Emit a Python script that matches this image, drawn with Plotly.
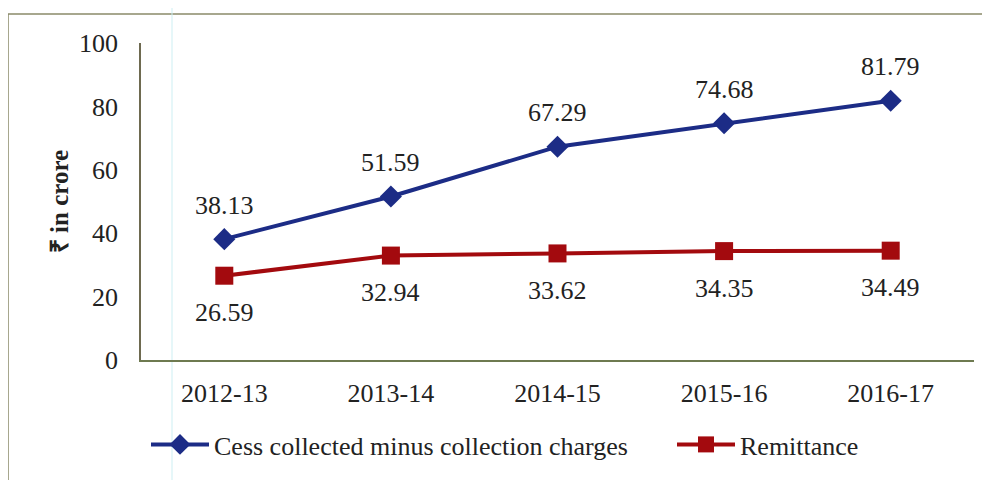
import plotly.graph_objects as go

years = ["2012-13", "2013-14", "2014-15", "2015-16", "2016-17"]
cess = [38.13, 51.59, 67.29, 74.68, 81.79]
remit = [26.59, 32.94, 33.62, 34.35, 34.49]
y_ticks = [0, 20, 40, 60, 80, 100]

FONT = "Liberation Serif, Times New Roman, serif"
FS = 26
BLUE, RED = "#1C2C86", "#A30A0E"
fig = go.Figure()
fig.add_trace(go.Scatter(
    x=years, y=cess, mode="lines+markers",
    name="Cess collected minus collection charges", legend="legend",
    line=dict(color=BLUE, width=4),
    marker=dict(symbol="diamond", size=17, color=BLUE),
))
fig.add_trace(go.Scatter(
    x=years, y=remit, mode="lines+markers",
    name="Remittance", legend="legend2",
    line=dict(color=RED, width=4),
    marker=dict(symbol="square", size=18, color=RED),
))

annotations = []
for xv, yv in zip(years, cess):
    annotations.append(dict(x=xv, y=yv, text=f"{yv:.2f}", showarrow=False,
                            yshift=34, font=dict(family=FONT, size=FS, color="#222")))
for xv, yv in zip(years, remit):
    annotations.append(dict(x=xv, y=yv, text=f"{yv:.2f}", showarrow=False,
                            yshift=-37, font=dict(family=FONT, size=FS, color="#222")))

# page is offset by the default 8px body margin
OX, OY = 8, 8
L, R, T, B = 141 - OX, 16, 43 - OY, 120
FW, FH = 990 - OX, 480 - OY
W, H = FW - L - R, FH - T - B
def px(x): return (x - OX - L) / W
def py(y): return (FH - B - (y - OY)) / H

leg_common = dict(orientation="h", yanchor="top", xanchor="left", itemwidth=58,
                  font=dict(family=FONT, size=FS, color="#222"), bgcolor="rgba(0,0,0,0)")

fig.update_layout(
    width=FW, height=FH,
    margin=dict(l=L, r=R, t=T, b=B, autoexpand=False),
    paper_bgcolor="white", plot_bgcolor="white",
    font=dict(family=FONT, size=FS, color="#222"),
    showlegend=True,
    legend=dict(x=px(146), y=py(421), **leg_common),
    legend2=dict(x=px(672), y=py(421), **leg_common),
    annotations=annotations,
    xaxis=dict(type="category", range=[-0.5, 4.5], showgrid=False, showline=True,
               linecolor="#6E7A50", linewidth=1.5, ticks="", ticklabelstandoff=9,
               tickfont=dict(family=FONT, size=FS, color="#222"), zeroline=False,
               automargin=False),
    yaxis=dict(range=[0, 100], tickvals=y_ticks, showgrid=False, showline=True,
               linecolor="#6E6A50", linewidth=1.5, ticks="", ticklabelstandoff=16,
               tickfont=dict(family=FONT, size=FS, color="#222"), zeroline=False,
               automargin=False,
               title=dict(text="<b>₹ in crore</b>", standoff=3,
                          font=dict(family=FONT, size=25, color="#222"))),
    shapes=[
        dict(type="rect", xref="paper", yref="paper",
             x0=px(8), x1=px(1005), y0=py(500), y1=py(14),
             line=dict(color="#8A8A6A", width=1.5), layer="below"),
        dict(type="line", xref="paper", yref="paper",
             x0=px(172), x1=px(172), y0=py(490), y1=py(-5),
             line=dict(color="#CDEFF3", width=1), layer="below"),
    ],
)
fig.write_html("out.html")
